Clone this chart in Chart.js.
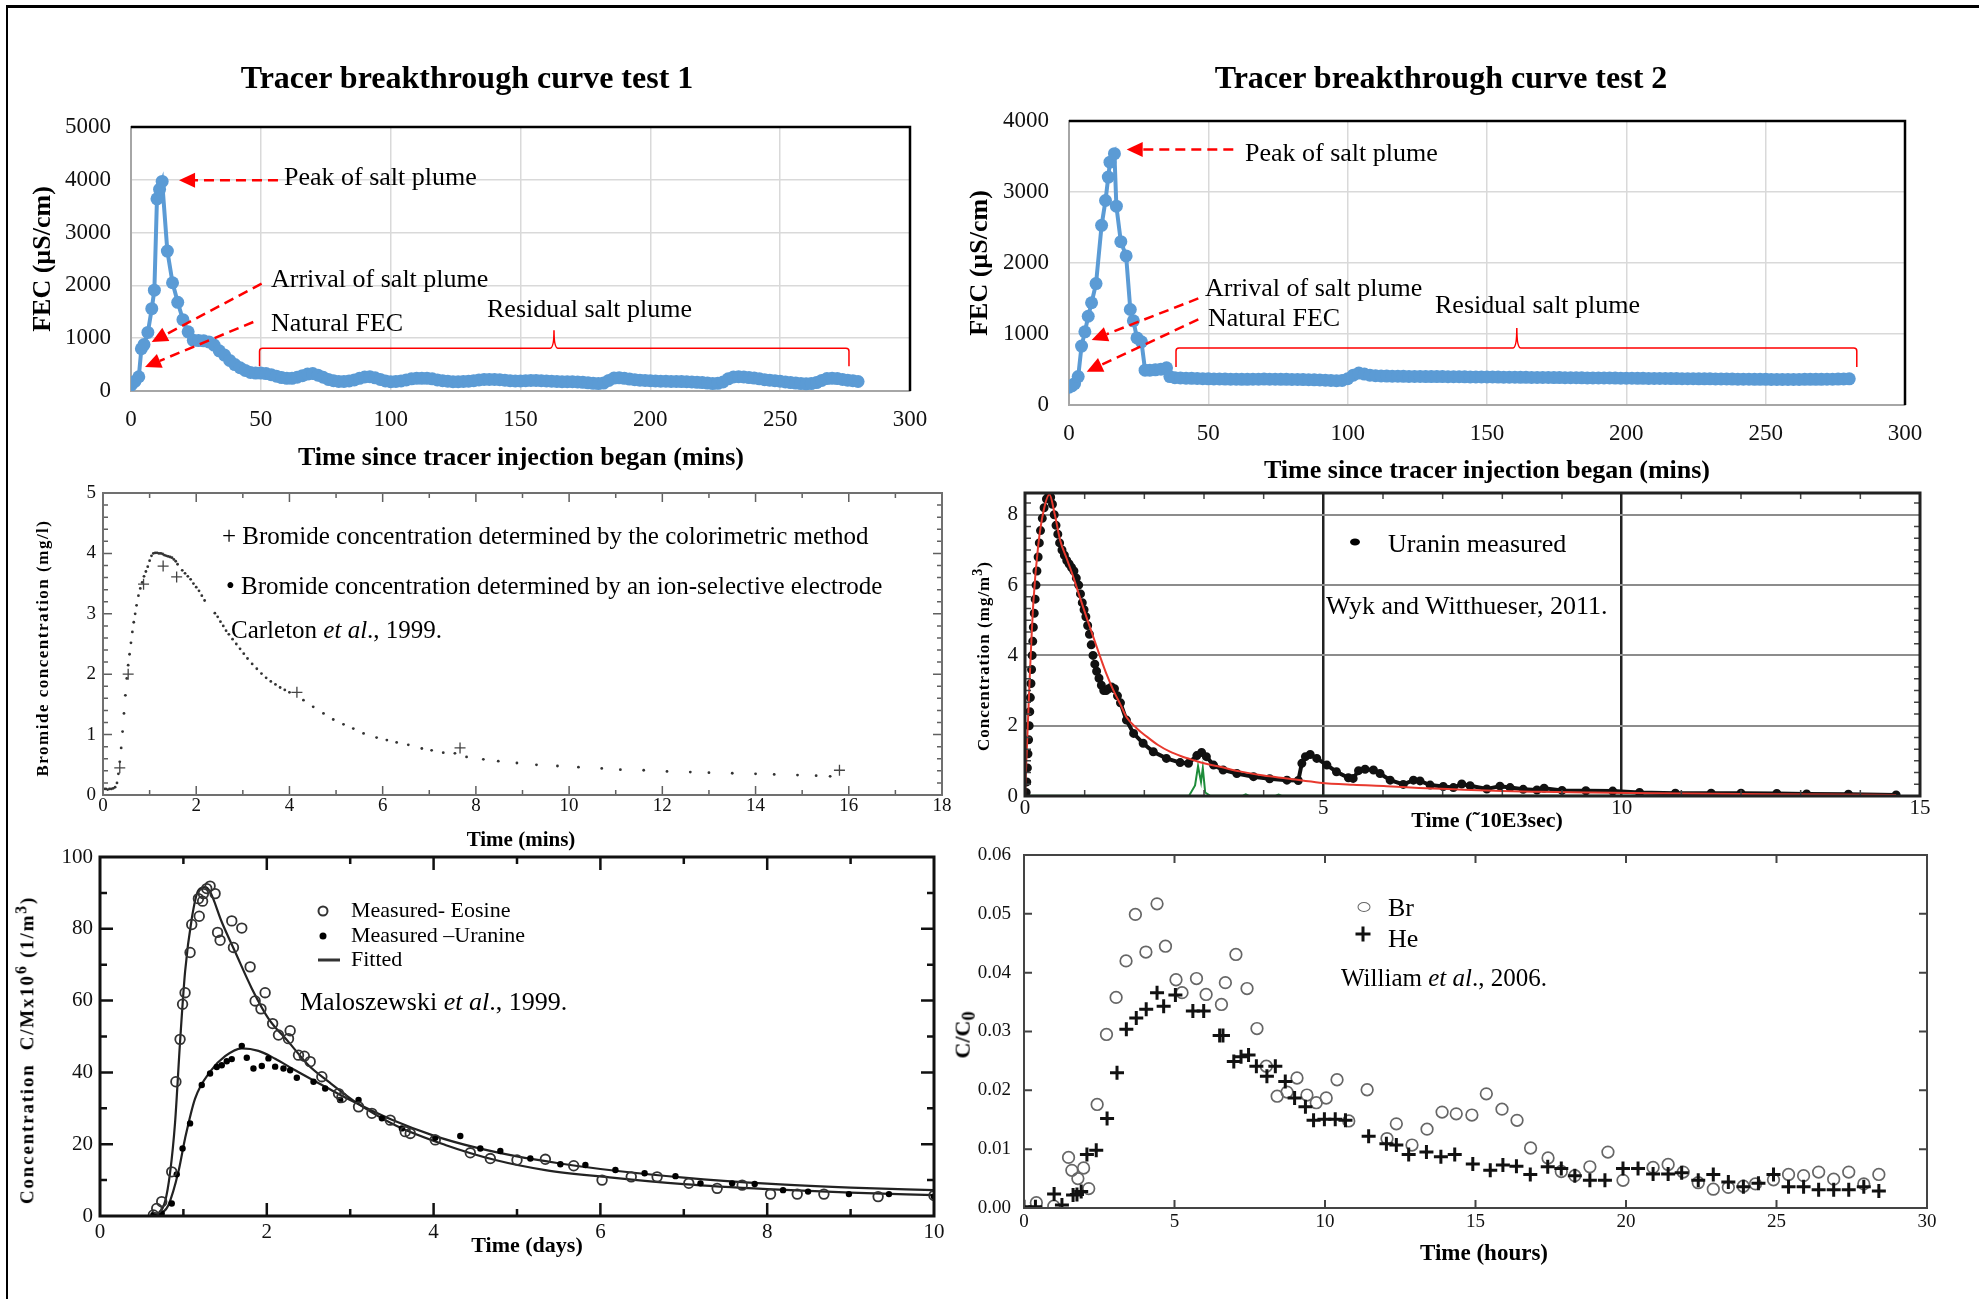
<!DOCTYPE html>
<html>
<head>
<meta charset="utf-8">
<script src="https://cdn.jsdelivr.net/npm/chart.js@4.4.1/dist/chart.umd.min.js"></script>
<style>
body { margin: 0; background: #fff; width: 1979px; height: 1299px; position: relative; overflow: hidden;
  font-family: 'Liberation Serif', 'Times New Roman', serif; }
canvas { position: absolute; z-index: 1; }
.t { position: absolute; white-space: nowrap; color: #000; line-height: 1; z-index: 2; }
.c { transform: translate(-50%, -50%); }
.l { transform: translate(0, -50%); }
.r { transform: translate(-50%, -50%) rotate(-90deg); }
.b { font-weight: bold; }
#frame { position: absolute; left: 6px; top: 5px; width: 1990px; height: 1310px; border-top: 3px solid #000; border-left: 2px solid #000; }
.sym { position: absolute; transform: translate(-50%, -50%); z-index: 2; }
</style>
</head>
<body>
<div id="frame"></div>

<!-- test 1 -->
<div class="t c b" style="left:467px;top:77px;font-size:32px">Tracer breakthrough curve test 1</div>
<div class="t r b" style="left:42px;top:259px;font-size:26px">FEC (µS/cm)</div>
<div class="t c b" style="left:521px;top:457px;font-size:26px">Time since tracer injection began (mins)</div>
<div class="t l" style="left:284px;top:177px;font-size:26px">Peak of salt plume</div>
<div class="t l" style="left:271px;top:279px;font-size:26px">Arrival of salt plume</div>
<div class="t l" style="left:271px;top:323px;font-size:26px">Natural FEC</div>
<div class="t l" style="left:487px;top:309px;font-size:26px">Residual salt plume</div>

<!-- test 2 -->
<div class="t c b" style="left:1441px;top:77px;font-size:32px">Tracer breakthrough curve test 2</div>
<div class="t r b" style="left:979px;top:263px;font-size:26px">FEC (µS/cm)</div>
<div class="t c b" style="left:1487px;top:470px;font-size:26px">Time since tracer injection began (mins)</div>
<div class="t l" style="left:1245px;top:153px;font-size:26px">Peak of salt plume</div>
<div class="t l" style="left:1205px;top:288px;font-size:26px">Arrival of salt plume</div>
<div class="t l" style="left:1208px;top:318px;font-size:26px">Natural FEC</div>
<div class="t l" style="left:1435px;top:305px;font-size:26px">Residual salt plume</div>

<!-- Carleton -->
<div class="t l" style="left:222px;top:535px;font-size:25px">+ Bromide concentration determined by the colorimetric method</div>
<div class="t l" style="left:226px;top:585px;font-size:25px">• Bromide concentration determined by an ion-selective electrode</div>
<div class="t l" style="left:231px;top:629px;font-size:25px">Carleton <i>et al</i>., 1999.</div>
<div class="t r b" style="left:42px;top:648px;font-size:17px;letter-spacing:1.5px">Bromide concentration (mg/l)</div>
<div class="t c b" style="left:521px;top:839px;font-size:21px">Time (mins)</div>

<!-- Wyk -->
<div class="sym" style="left:1355px;top:542px;width:10px;height:7px;border-radius:50%;background:#000"></div>
<div class="t l" style="left:1388px;top:544px;font-size:26px">Uranin measured</div>
<div class="t l" style="left:1326px;top:606px;font-size:26px">Wyk and Witthueser, 2011.</div>
<div class="t r b" style="left:981px;top:656px;font-size:17px;letter-spacing:1px">Concentration (mg/m<sup>3</sup>)</div>
<div class="t c b" style="left:1487px;top:820px;font-size:22px">Time (˜10E3sec)</div>

<!-- Maloszewski -->
<div class="sym" style="left:323px;top:911px;width:7px;height:7px;border-radius:50%;border:2px solid #333"></div>
<div class="sym" style="left:323px;top:936px;width:7px;height:7px;border-radius:50%;background:#000"></div>
<div class="sym" style="left:329px;top:960px;width:22px;height:3px;background:#333"></div>
<div class="t l" style="left:351px;top:910px;font-size:22px">Measured- Eosine</div>
<div class="t l" style="left:351px;top:935px;font-size:22px">Measured –Uranine</div>
<div class="t l" style="left:351px;top:959px;font-size:22px">Fitted</div>
<div class="t l" style="left:300px;top:1002px;font-size:26px">Maloszewski <i>et al</i>., 1999.</div>
<div class="t r b" style="left:25px;top:1050px;font-size:19px;letter-spacing:1.8px">Concentration&nbsp; C/Mx10<sup>6</sup> (1/m<sup>3</sup>)</div>
<div class="t c b" style="left:527px;top:1245px;font-size:22px">Time (days)</div>

<!-- William -->
<div class="sym" style="left:1364px;top:907px;width:11px;height:8px;border-radius:50%;border:1.8px solid #666"></div>
<div class="sym" style="left:1363px;top:934px;width:15px;height:3px;background:#111"></div>
<div class="sym" style="left:1363px;top:934px;width:3px;height:15px;background:#111"></div>
<div class="t l" style="left:1388px;top:908px;font-size:26px">Br</div>
<div class="t l" style="left:1388px;top:939px;font-size:26px">He</div>
<div class="t l" style="left:1341px;top:977px;font-size:25px">William <i>et al</i>., 2006.</div>
<div class="t r b" style="left:965px;top:1035px;font-size:22px">C/C<sub>0</sub></div>
<div class="t c b" style="left:1484px;top:1252px;font-size:23px">Time (hours)</div>

<script>
// ---- data: tracer test 1 (FEC, µS/cm) ----
const t1Time = [0, 1.5, 3, 4, 5, 6.5, 8, 9, 10, 11, 12, 14, 16, 18, 20, 22, 24, 26, 28, 30, 32, 34, 36, 38, 40, 42, 44, 46, 48,
  50, 52, 54, 56, 58, 60, 62, 64, 66, 68,
  70, 72, 74, 76, 78, 80, 82, 84, 86, 88,
  90, 92, 94, 96, 98, 100, 102, 104, 106, 108,
  110, 112, 114, 116, 118, 120, 122, 124, 126, 128,
  130, 132, 134, 136, 138, 140, 142, 144, 146, 148,
  150, 152, 154, 156, 158, 160, 162, 164, 166, 168,
  170, 172, 174, 176, 178, 180, 182, 184, 186, 188,
  190, 192, 194, 196, 198, 200, 202, 204, 206, 208,
  210, 212, 214, 216, 218, 220, 222, 224, 226, 228,
  230, 232, 234, 236, 238, 240, 242, 244, 246, 248,
  250, 252, 254, 256, 258, 260, 262, 264, 266, 268,
  270, 272, 274, 276, 278, 280];
const t1Fec = [110, 180, 270, 800, 880, 1110, 1560, 1910, 3640, 3820, 3970, 2650, 2050, 1680, 1350, 1120, 960, 955, 950, 930, 870, 760, 680, 580, 500, 440, 390, 350, 340,
  340, 330, 310, 280, 255, 240, 240, 260, 290, 320,
  330, 300, 260, 220, 195, 180, 180, 190, 210, 240,
  265, 270, 250, 220, 190, 175, 180, 190, 210, 230,
  240, 240, 240, 230, 210, 195, 185, 175, 175, 180,
  185, 195, 210, 220, 220, 220, 215, 205, 195, 190,
  190, 195, 200, 200, 195, 190, 185, 180, 175, 175,
  175, 170, 165, 155, 145, 140, 150, 200, 245, 250,
  240, 225, 215, 205, 200, 195, 190, 185, 185, 180,
  180, 178, 175, 170, 165, 160, 150, 140, 145, 170,
  230, 265, 270, 265, 255, 245, 230, 215, 205, 195,
  185, 170, 160, 150, 140, 135, 140, 160, 200, 235,
  240, 235, 220, 205, 195, 180];

// ---- data: tracer test 2 ----
const t2Time = [0, 1, 2, 3.3, 4.5, 5.7, 6.9, 8.1, 9.7, 11.7, 13.1, 14.1, 14.7, 16.3, 17, 18.6, 20.5, 22, 23.1, 24.4, 26, 27.3, 29, 31, 33, 35, 36.2,
  38, 40, 42, 44, 46, 48, 50, 52, 54, 56,
  58, 60, 62, 64, 66, 68, 70, 72, 74, 76,
  78, 80, 82, 84, 86, 88, 90, 92, 94, 96,
  98, 100, 102, 104, 106, 108, 110, 112, 114, 116,
  118, 120, 122, 124, 126, 128, 130, 132, 134, 136,
  138, 140, 142, 144, 146, 148, 150, 152, 154, 156,
  158, 160, 162, 164, 166, 168, 170, 172, 174, 176,
  178, 180, 182, 184, 186, 188, 190, 192, 194, 196,
  198, 200, 202, 204, 206, 208, 210, 212, 214, 216,
  218, 220, 222, 224, 226, 228, 230, 232, 234, 236,
  238, 240, 242, 244, 246, 248, 250, 252, 254, 256,
  258, 260, 262, 264, 266, 268, 270, 272, 274, 276,
  278, 280];
const t2Fec = [250, 270, 300, 400, 830, 1030, 1250, 1440, 1710, 2530, 2880, 3210, 3420, 3540, 2800, 2300, 2100, 1345, 1185, 945, 890, 490, 490, 495, 505, 525, 400,
  385, 380, 378, 376, 373, 371, 369, 367, 366, 365,
  364, 363, 362, 362, 363, 364, 365, 364, 363, 362,
  361, 360, 360, 358, 356, 354, 352, 350, 346, 342,
  345, 370, 420, 450, 435, 420, 412, 410, 408, 406,
  405, 404, 403, 402, 402, 401, 400, 400, 400, 399,
  398, 398, 397, 396, 396, 395, 394, 394, 393, 392,
  392, 391, 390, 390, 389, 388, 388, 387, 386, 386,
  385, 384, 384, 383, 382, 382, 381, 380, 380, 379,
  378, 378, 377, 376, 376, 375, 374, 374, 373, 372,
  372, 371, 370, 370, 369, 368, 368, 367, 366, 366,
  365, 364, 364, 363, 362, 362, 361, 360, 360, 360,
  360, 360, 360, 361, 361, 362, 362, 363, 364, 365,
  366, 368];

// ---- data: Carleton et al. 1999 (time mins, bromide mg/l) ----
const colorimetric = [[0.36, 0.45], [0.54, 2.0], [0.87, 3.49], [1.29, 3.79], [1.58, 3.61], [4.16, 1.70], [7.66, 0.78], [15.8, 0.41]];
const electrode = [[0.02, 0.1], [0.06, 0.1], [0.1, 0.09], [0.14, 0.1], [0.18, 0.1], [0.22, 0.11], [0.26, 0.13], [0.3, 0.2],
  [0.33, 0.35], [0.36, 0.55], [0.39, 0.78], [0.42, 1.05], [0.45, 1.35], [0.48, 1.65], [0.51, 1.93], [0.54, 2.15],
  [0.57, 2.33], [0.6, 2.52], [0.63, 2.7], [0.66, 2.86], [0.69, 3.0], [0.72, 3.14], [0.76, 3.3], [0.8, 3.42],
  [0.84, 3.52], [0.88, 3.62], [0.92, 3.7], [0.96, 3.78], [1.0, 3.88], [1.04, 3.96], [1.08, 4.0], [1.12, 4.01],
  [1.16, 4.01], [1.2, 4.0], [1.24, 4.0], [1.28, 3.99], [1.32, 3.97], [1.36, 3.96], [1.4, 3.95], [1.44, 3.94],
  [1.48, 3.93], [1.52, 3.9], [1.56, 3.87], [1.6, 3.82], [1.7, 3.72], [1.76, 3.67], [1.82, 3.62], [1.88, 3.57],
  [1.94, 3.5], [2.0, 3.44], [2.06, 3.38], [2.12, 3.3], [2.18, 3.22], [2.4, 3.01], [2.46, 2.95], [2.52, 2.87],
  [2.58, 2.8], [2.64, 2.72], [2.7, 2.66], [2.78, 2.58], [2.86, 2.5], [2.94, 2.42], [3.02, 2.34], [3.1, 2.26],
  [3.2, 2.17], [3.3, 2.09], [3.4, 2.01], [3.5, 1.94], [3.6, 1.88], [3.7, 1.83], [3.8, 1.78], [3.9, 1.74],
  [4.0, 1.7], [4.3, 1.57], [4.51, 1.46], [4.73, 1.35], [4.94, 1.25], [5.16, 1.17], [5.37, 1.1], [5.59, 1.02],
  [5.87, 0.95], [6.09, 0.91], [6.3, 0.87], [6.55, 0.83], [6.84, 0.77], [7.05, 0.74], [7.3, 0.7], [7.55, 0.69],
  [7.8, 0.63], [8.16, 0.59], [8.48, 0.56], [8.88, 0.53], [9.3, 0.5], [9.75, 0.48], [10.2, 0.46], [10.7, 0.44],
  [11.1, 0.42], [11.6, 0.41], [12.1, 0.39], [12.6, 0.38], [13.0, 0.37], [13.5, 0.36], [14.0, 0.35], [14.4, 0.34],
  [14.9, 0.33], [15.3, 0.32], [15.6, 0.31]];

// ---- data: Wyk and Witthueser 2011 (time x10^3 s, mg/m3) ----
const uraninFit = [[0, 0], [0.03, 1.3], [0.08, 3.4], [0.14, 5.5], [0.22, 7.1], [0.31, 8.1], [0.41, 8.58], [0.5, 8.0],
  [0.59, 7.27], [0.7, 6.75], [0.81, 6.23], [0.92, 5.65], [1.03, 5.09], [1.15, 4.5], [1.26, 3.96], [1.37, 3.45],
  [1.48, 3.01], [1.6, 2.6], [1.7, 2.25], [1.87, 1.93], [2.04, 1.69], [2.23, 1.45], [2.43, 1.26], [2.62, 1.13],
  [2.82, 1.02], [3.0, 0.93], [3.27, 0.83], [3.6, 0.7], [4.0, 0.58], [4.39, 0.5], [4.94, 0.38], [5.5, 0.32],
  [6.06, 0.28], [6.6, 0.23], [7.18, 0.19], [8.0, 0.14], [8.63, 0.12], [9.5, 0.1], [10.5, 0.08], [12, 0.06],
  [13.5, 0.04], [14.6, 0.03]];
const uraninMeasured = [[0.02, 0.1], [0.03, 0.4], [0.04, 0.8], [0.05, 1.2], [0.06, 1.6], [0.07, 2.0], [0.08, 2.4], [0.09, 2.8],
  [0.1, 3.2], [0.11, 3.6], [0.12, 4.0], [0.13, 4.4], [0.14, 4.8], [0.155, 5.2], [0.17, 5.6], [0.185, 6.0],
  [0.2, 6.4], [0.22, 6.8], [0.24, 7.2], [0.26, 7.55], [0.29, 7.9], [0.32, 8.2], [0.36, 8.45], [0.4, 8.6],
  [0.43, 8.5], [0.46, 8.3], [0.49, 8.0], [0.52, 7.7], [0.55, 7.45], [0.58, 7.2], [0.62, 7.0], [0.66, 6.85],
  [0.7, 6.7], [0.74, 6.6], [0.78, 6.5], [0.82, 6.4], [0.86, 6.2], [0.9, 6.0], [0.93, 5.75], [0.96, 5.5],
  [0.99, 5.3], [1.02, 5.1], [1.05, 4.85], [1.08, 4.6], [1.11, 4.3], [1.14, 4.0], [1.17, 3.75], [1.2, 3.55],
  [1.24, 3.35], [1.28, 3.15], [1.32, 3.0], [1.36, 3.0], [1.4, 3.05], [1.45, 3.1], [1.5, 3.05], [1.55, 2.85],
  [1.6, 2.65], [1.7, 2.16], [1.82, 1.78], [1.98, 1.5], [2.15, 1.26], [2.37, 1.07], [2.6, 0.95], [2.74, 0.93],
  [2.88, 1.15], [2.96, 1.24], [3.04, 1.12], [3.16, 0.88], [3.32, 0.74], [3.55, 0.64], [3.83, 0.55], [4.1, 0.49],
  [4.39, 0.45], [4.58, 0.44], [4.64, 0.93], [4.7, 1.12], [4.78, 1.18], [4.89, 1.07], [5.06, 0.88], [5.22, 0.69],
  [5.42, 0.52], [5.5, 0.5], [5.59, 0.72], [5.7, 0.76], [5.84, 0.74], [5.95, 0.64], [6.12, 0.45], [6.34, 0.33],
  [6.51, 0.45], [6.62, 0.43], [6.79, 0.31], [7.01, 0.27], [7.18, 0.24], [7.32, 0.34], [7.46, 0.29], [7.74, 0.2],
  [7.96, 0.28], [8.13, 0.24], [8.35, 0.19], [8.58, 0.17], [8.7, 0.22], [9.0, 0.16], [9.4, 0.15], [9.85, 0.14],
  [10.3, 0.1], [10.9, 0.08], [11.5, 0.08], [12.0, 0.08], [12.6, 0.07], [13.1, 0.06], [13.8, 0.05], [14.6, 0.03]];
const greenTrace = [[0, 0.01], [2.75, 0.01], [2.85, 0.3], [2.9, 0.85], [2.95, 0.4], [2.98, 0.8], [3.02, 0.1], [3.1, 0.01],
  [3.65, 0.01], [3.7, 0.05], [3.75, 0.01], [4.2, 0.01], [4.25, 0.04], [4.3, 0.01], [14.6, 0.01]];

// ---- data: Maloszewski et al. 1999 (days, C/M x10^6) ----
const eosine = [[0.64, 0.3], [0.68, 2.1], [0.74, 4], [0.86, 12.3], [0.91, 37.4], [0.96, 49.2], [0.99, 59], [1.02, 62.2],
  [1.08, 73.4], [1.1, 81.2], [1.18, 88.4], [1.19, 83.5], [1.23, 87.7], [1.24, 89.8], [1.28, 91.2], [1.32, 91.9],
  [1.38, 89.8], [1.41, 79], [1.44, 76.8], [1.58, 82.2], [1.6, 74.8], [1.7, 80.2], [1.8, 69.4], [1.86, 59.9],
  [1.93, 57.7], [1.98, 62.2], [2.07, 53.6], [2.14, 50.4], [2.26, 49.4], [2.28, 51.6], [2.38, 44.8], [2.45, 44.5],
  [2.52, 43], [2.66, 38.8], [2.86, 34.1], [2.9, 33], [3.1, 30.4], [3.26, 28.6], [3.48, 26.7], [3.66, 23.5],
  [3.72, 23], [4.02, 21.2], [4.44, 17.6], [4.68, 16], [5.0, 15.6], [5.34, 15.8], [5.68, 14], [6.02, 10],
  [6.37, 10.9], [6.68, 10.9], [7.06, 9.1], [7.4, 7.7], [7.7, 8.6], [8.04, 6.1], [8.36, 6.1], [8.68, 6.1],
  [9.33, 5.4], [10.0, 5.7]];
const uranine = [[0.64, 0.3], [0.74, 0.7], [0.86, 3.5], [0.92, 11.6], [0.99, 18.8], [1.08, 25.8], [1.22, 36.5], [1.32, 39.7],
  [1.4, 41.5], [1.46, 42], [1.52, 43.1], [1.58, 43.7], [1.7, 47.4], [1.76, 44.1], [1.84, 41.1], [1.94, 41.8],
  [2.02, 43.9], [2.1, 41.6], [2.2, 41.1], [2.28, 40.6], [2.36, 38.5], [2.56, 37.4], [2.7, 35.5], [2.88, 32.3],
  [3.1, 32.3], [3.38, 27.2], [3.62, 24.4], [4.02, 21.8], [4.32, 22.3], [4.56, 18.8], [4.8, 18.1], [5.16, 16],
  [5.52, 14.4], [5.82, 14.2], [6.18, 12.8], [6.53, 11.9], [6.9, 11.1], [7.2, 9.1], [7.58, 9.1], [7.85, 8.9],
  [8.19, 7.2], [8.49, 6.8], [8.98, 6.1], [9.46, 6.1], [10.0, 5.4]];
const eosineFit = [[0.6, 0], [0.7, 0.8], [0.78, 4], [0.84, 12], [0.9, 26], [0.96, 48.5], [1.02, 68], [1.1, 82.8],
  [1.18, 90.7], [1.26, 91.6], [1.32, 90.3], [1.46, 81.9], [1.62, 73.6], [1.82, 63.4], [2.02, 55], [2.26, 48.5],
  [2.5, 42], [2.74, 37.4], [3.06, 31.8], [3.54, 25.3], [4.14, 19.8], [4.74, 15.6], [5.34, 12.8], [6.14, 10.7],
  [7, 8.9], [8, 7.5], [9, 6.5], [10, 5.8]];
const uranineFit = [[0.65, 0], [0.75, 1], [0.82, 3], [0.94, 12.3], [1.02, 21.6], [1.14, 32.7], [1.32, 40.2], [1.5, 44.5],
  [1.7, 46.7], [1.9, 46], [2.1, 43.8], [2.34, 40.6], [2.74, 35.5], [3.0, 32.3], [3.5, 26.8], [4, 22.4],
  [4.5, 19.1], [5, 16.6], [5.5, 14.7], [6, 13.1], [7, 10.7], [8, 9.0], [9, 7.9], [10, 7.2]];

// ---- data: William et al. 2006 (hours, C/C0) ----
const brData = [[0.41, 0.0009], [0.99, 0.0003], [1.48, 0.0086], [1.59, 0.0064], [1.79, 0.005], [1.98, 0.0068], [2.15, 0.0033],
  [2.43, 0.0176], [2.74, 0.0295], [3.06, 0.0358], [3.39, 0.042], [3.7, 0.0499], [4.05, 0.0435], [4.42, 0.0517],
  [4.7, 0.0445], [5.05, 0.0388], [5.25, 0.0366], [5.73, 0.039], [6.05, 0.0363], [6.56, 0.0346], [6.69, 0.0383],
  [7.04, 0.0431], [7.41, 0.0373], [7.74, 0.0305], [8.05, 0.0241], [8.41, 0.019], [8.74, 0.0197], [9.07, 0.0221],
  [9.4, 0.0192], [9.71, 0.0179], [10.04, 0.0187], [10.4, 0.0218], [10.79, 0.0148], [11.4, 0.0201], [12.06, 0.0118],
  [12.37, 0.0143], [12.89, 0.0107], [13.39, 0.0134], [13.89, 0.0163], [14.36, 0.016], [14.88, 0.0158], [15.36, 0.0194],
  [15.88, 0.0168], [16.38, 0.0149], [16.83, 0.0102], [17.41, 0.0085], [17.85, 0.0062], [18.3, 0.0055], [18.8, 0.007],
  [19.4, 0.0095], [19.9, 0.0047], [20.9, 0.0069], [21.4, 0.0074], [21.9, 0.0061], [22.4, 0.0043], [22.9, 0.0032],
  [23.4, 0.0035], [23.9, 0.0037], [24.3, 0.0041], [24.9, 0.0048], [25.4, 0.0057], [25.9, 0.0055], [26.4, 0.0061],
  [26.9, 0.0049], [27.4, 0.0061], [27.9, 0.0041], [28.4, 0.0057]];
const heData = [[0, 0.0002], [0.38, 0.0002], [1.0, 0.0024], [1.26, 0.0005], [1.63, 0.0022], [1.76, 0.0023], [1.9, 0.0028],
  [2.09, 0.0091], [2.4, 0.0098], [2.76, 0.0152], [3.09, 0.023], [3.4, 0.0304], [3.73, 0.0323], [4.06, 0.0338],
  [4.42, 0.0366], [4.64, 0.0343], [5.03, 0.0362], [5.61, 0.0335], [5.97, 0.0335], [6.5, 0.0293], [6.61, 0.0293],
  [6.97, 0.0249], [7.21, 0.0257], [7.46, 0.026], [7.72, 0.0241], [8.07, 0.0224], [8.35, 0.0241], [8.68, 0.0215],
  [8.99, 0.0187], [9.35, 0.0172], [9.62, 0.0149], [9.98, 0.0151], [10.34, 0.0151], [10.68, 0.0149], [11.45, 0.0122],
  [12.04, 0.0109], [12.37, 0.0107], [12.78, 0.0091], [13.37, 0.0095], [13.85, 0.0087], [14.31, 0.0091], [14.91, 0.0075],
  [15.49, 0.0064], [15.91, 0.0073], [16.36, 0.0071], [16.82, 0.0057], [17.4, 0.007], [17.85, 0.0067], [18.3, 0.0055],
  [18.8, 0.0047], [19.3, 0.0047], [19.9, 0.0067], [20.4, 0.0067], [20.9, 0.0058], [21.4, 0.0058], [21.85, 0.006],
  [22.4, 0.0047], [22.9, 0.0057], [23.4, 0.0044], [23.9, 0.0036], [24.4, 0.0042], [24.9, 0.0057], [25.4, 0.0036],
  [25.9, 0.0036], [26.4, 0.0031], [26.9, 0.0031], [27.4, 0.0031], [27.9, 0.0036], [28.4, 0.0029]];

// ---- tick values ----
const ticksMins = [0, 50, 100, 150, 200, 250, 300];
const ticksFec1 = [0, 1000, 2000, 3000, 4000, 5000];
const ticksFec2 = [0, 1000, 2000, 3000, 4000];
const ticksBrX = [0, 2, 4, 6, 8, 10, 12, 14, 16, 18];
const ticksBrY = [0, 1, 2, 3, 4, 5];
const ticksWykX = [0, 5, 10, 15];
const ticksWykY = [0, 2, 4, 6, 8];
const ticksDays = [0, 2, 4, 6, 8, 10];
const ticksConc = [0, 20, 40, 60, 80, 100];
const ticksHours = [0, 5, 10, 15, 20, 25, 30];
const ticksCC0 = [0, 0.01, 0.02, 0.03, 0.04, 0.05, 0.06];

// ---- annotations on the salt tests (in data units) ----
const notes1 = {
  arrows: [[[56.6, 3990], [18.5, 3990]], [[50.3, 2034], [7.97, 928]], [[47.1, 1307], [5.4, 455]]],
  bracket: { x0: 49.5, x1: 276.5, xm: 162.9, y: 809, yEnd: 468, yTip: 1150 }
};
const notes2 = {
  arrows: [[[58.96, 3598], [20.7, 3598]], [[46.4, 1501], [8.14, 915]], [[46.4, 1205], [6.35, 469]]],
  bracket: { x0: 38.4, x1: 282.7, xm: 160.7, y: 802, yEnd: 535, yTip: 1083 }
};

const SERIF = "'Liberation Serif', 'Times New Roman', serif";
const BLUE = '#5b9bd5';
const M = { l: 80, r: 50, t: 45, b: 50 };
const pts = arr => arr.map(p => ({ x: p[0], y: p[1] }));

function lin(min, max, vals, o) {
  return {
    type: 'linear', min, max,
    afterBuildTicks: s => { s.ticks = vals.map(v => ({ value: v })); },
    ticks: { font: { family: SERIF, size: o.size }, color: '#111', padding: o.pad, maxRotation: 0, autoSkip: false,
      callback: o.fmt || (v => String(v)) },
    grid: { display: !!o.grid, color: o.grid || 'transparent', lineWidth: o.gw || 1, drawTicks: false },
    border: { display: !!o.border, color: o.border || '#000', width: 2 }
  };
}

function makeChart(rect, config) {
  const cv = document.createElement('canvas');
  const L = Math.round(rect[0]), T = Math.round(rect[1]), R = Math.round(rect[2]), B = Math.round(rect[3]);
  const W = R - L + M.l + M.r, H = B - T + M.t + M.b;
  cv.width = W; cv.height = H;
  cv.style.left = (L - M.l) + 'px'; cv.style.top = (T - M.t) + 'px';
  cv.style.width = W + 'px'; cv.style.height = H + 'px';
  document.body.appendChild(cv);
  config.options.responsive = false;
  config.options.animation = false;
  config.options.devicePixelRatio = 1;
  config.options.layout = { padding: { left: 0, right: M.r, top: M.t, bottom: 0 } };
  config.options.plugins = { legend: { display: false }, tooltip: { enabled: false } };
  config.options.scales.x.afterFit = s => { s.height = M.b; };
  config.options.scales.y.afterFit = s => { s.width = M.l; };
  return new Chart(cv, config);
}

// frame with inward tick marks (scanned panels)
function frameTicks(f) {
  return {
    id: 'frameTicks',
    afterDatasetsDraw(chart) {
      const { ctx, chartArea: a, scales: { x, y } } = chart;
      ctx.save();
      ctx.strokeStyle = f.tickColor; ctx.lineWidth = f.tickWidth;
      const marks = (sc, s, horiz) => {
        const n = Math.round((sc.max - sc.min) / s.minor);
        for (let i = 1; i < n; i++) {
          const v = sc.min + i * s.minor;
          const q = v / s.major;
          const len = Math.abs(q - Math.round(q)) < 1e-6 ? s.majorLen : s.minorLen;
          if (!len) continue;
          const p = sc.getPixelForValue(v);
          ctx.beginPath();
          if (horiz) {
            ctx.moveTo(p, a.bottom); ctx.lineTo(p, a.bottom - len);
            ctx.moveTo(p, a.top); ctx.lineTo(p, a.top + len);
          } else {
            ctx.moveTo(a.left, p); ctx.lineTo(a.left + len, p);
            ctx.moveTo(a.right, p); ctx.lineTo(a.right - len, p);
          }
          ctx.stroke();
        }
      };
      marks(x, f.x, true);
      marks(y, f.y, false);
      ctx.strokeStyle = f.color; ctx.lineWidth = f.width;
      ctx.strokeRect(a.left, a.top, a.right - a.left, a.bottom - a.top);
      ctx.restore();
    }
  };
}

// black top/right border, red dashed arrows and bracket
function saltNotes(n) {
  return {
    id: 'saltNotes',
    afterDatasetsDraw(chart) {
      const { ctx, chartArea: a, scales: { x, y } } = chart;
      ctx.save();
      ctx.strokeStyle = '#000'; ctx.lineWidth = 2.5;
      ctx.beginPath(); ctx.moveTo(a.left, a.top); ctx.lineTo(a.right, a.top); ctx.lineTo(a.right, a.bottom); ctx.stroke();
      ctx.strokeStyle = ctx.fillStyle = '#ff0000';
      n.arrows.forEach(([from, to]) => {
        const x0 = x.getPixelForValue(from[0]), y0 = y.getPixelForValue(from[1]);
        const x1 = x.getPixelForValue(to[0]), y1 = y.getPixelForValue(to[1]);
        const ang = Math.atan2(y1 - y0, x1 - x0), hl = 16, hw = 7.5;
        const bx = x1 - hl * Math.cos(ang), by = y1 - hl * Math.sin(ang);
        ctx.setLineDash([10, 6]); ctx.lineWidth = 2.5;
        ctx.beginPath(); ctx.moveTo(x0, y0); ctx.lineTo(bx, by); ctx.stroke();
        ctx.setLineDash([]);
        ctx.beginPath(); ctx.moveTo(x1, y1);
        ctx.lineTo(bx + hw * Math.sin(ang), by - hw * Math.cos(ang));
        ctx.lineTo(bx - hw * Math.sin(ang), by + hw * Math.cos(ang));
        ctx.closePath(); ctx.fill();
      });
      const b = n.bracket;
      const xl = x.getPixelForValue(b.x0), xr = x.getPixelForValue(b.x1), xm = x.getPixelForValue(b.xm);
      const yh = y.getPixelForValue(b.y), ye = y.getPixelForValue(b.yEnd), yt = y.getPixelForValue(b.yTip);
      ctx.lineWidth = 1.5;
      ctx.beginPath();
      ctx.moveTo(xl, ye); ctx.lineTo(xl, yh + 3); ctx.quadraticCurveTo(xl, yh, xl + 3, yh);
      ctx.lineTo(xm - 4, yh); ctx.quadraticCurveTo(xm, yh, xm, yt);
      ctx.quadraticCurveTo(xm, yh, xm + 4, yh);
      ctx.lineTo(xr - 3, yh); ctx.quadraticCurveTo(xr, yh, xr, yh + 3); ctx.lineTo(xr, ye);
      ctx.stroke();
      ctx.restore();
    }
  };
}

const blueSeries = (tt, vv) => ({
  data: tt.map((t, i) => ({ x: t, y: vv[i] })), showLine: true,
  borderColor: BLUE, borderWidth: 4, pointRadius: 6.5, pointBackgroundColor: BLUE, pointBorderWidth: 0
});

// test 1
makeChart([131, 127, 910, 391], {
  type: 'scatter',
  data: { datasets: [blueSeries(t1Time, t1Fec)] },
  options: { scales: {
    x: lin(0, 300, ticksMins, { size: 23, pad: 15, grid: '#d9d9d9', gw: 1.5, border: '#a6a6a6' }),
    y: lin(0, 5000, ticksFec1, { size: 23, pad: 20, grid: '#d9d9d9', gw: 1.5, border: '#a6a6a6' })
  } },
  plugins: [saltNotes(notes1)]
});

// test 2
makeChart([1069, 121, 1905, 405], {
  type: 'scatter',
  data: { datasets: [blueSeries(t2Time, t2Fec)] },
  options: { scales: {
    x: lin(0, 300, ticksMins, { size: 23, pad: 15, grid: '#d9d9d9', gw: 1.5, border: '#a6a6a6' }),
    y: lin(0, 4000, ticksFec2, { size: 23, pad: 20, grid: '#d9d9d9', gw: 1.5, border: '#a6a6a6' })
  } },
  plugins: [saltNotes(notes2)]
});

// Carleton
makeChart([103, 493, 942, 795], {
  type: 'scatter',
  data: { datasets: [
    { data: pts(colorimetric), pointStyle: 'cross', pointRadius: 5.5, borderColor: '#444', borderWidth: 1.3 },
    { data: pts(electrode), pointRadius: 1.4, backgroundColor: '#333', borderWidth: 0 }
  ] },
  options: { scales: {
    x: lin(0, 18, ticksBrX, { size: 19, pad: 0 }),
    y: lin(0, 5, ticksBrY, { size: 19, pad: 7 })
  } },
  plugins: [frameTicks({ color: '#707070', width: 2, tickColor: '#606060', tickWidth: 1.5,
    x: { minor: 1, major: 2, minorLen: 5, majorLen: 9 }, y: { minor: 0.2, major: 1, minorLen: 5, majorLen: 9 } })]
});

// Wyk and Witthueser
makeChart([1025, 493, 1920, 796], {
  type: 'scatter',
  data: { datasets: [
    { data: pts(uraninFit), showLine: true, borderColor: '#e8392e', borderWidth: 2, pointRadius: 0, tension: 0.3, cubicInterpolationMode: 'monotone' },
    { data: pts(uraninMeasured), showLine: true, borderColor: '#111', borderWidth: 4, pointRadius: 2.5, backgroundColor: '#111',
      segment: { borderColor: c => c.p0.parsed.x < 1.3 ? 'rgba(0,0,0,0)' : '#111' } },
    { data: pts(greenTrace), showLine: true, borderColor: '#1e8c3a', borderWidth: 2, pointRadius: 0 }
  ] },
  options: { scales: {
    x: Object.assign(lin(0, 15, ticksWykX, { size: 21, pad: 0 }),
      { grid: { display: true, drawTicks: false, lineWidth: 2.5,
        color: c => (c.tick && (c.tick.value === 5 || c.tick.value === 10)) ? '#222' : 'rgba(0,0,0,0)' } }),
    y: lin(0, 8.62, ticksWykY, { size: 21, pad: 7, grid: '#8c8c8c', gw: 2 })
  } },
  plugins: [frameTicks({ color: '#222', width: 3, tickColor: '#444', tickWidth: 1.5,
    x: { minor: 1, major: 5, minorLen: 6, majorLen: 0 }, y: { minor: 2 / 6, major: 2, minorLen: 6, majorLen: 0 } })]
});

// Maloszewski
makeChart([100, 857, 934, 1216], {
  type: 'scatter',
  data: { datasets: [
    { data: pts(eosine), pointRadius: 4.8, borderColor: '#333', backgroundColor: 'rgba(255,255,255,0)', borderWidth: 1.8 },
    { data: pts(uranine), pointRadius: 3.2, backgroundColor: '#000', borderWidth: 0 },
    { data: pts(eosineFit), showLine: true, borderColor: '#222', borderWidth: 2.2, pointRadius: 0, tension: 0.4, cubicInterpolationMode: 'monotone' },
    { data: pts(uranineFit), showLine: true, borderColor: '#222', borderWidth: 2.2, pointRadius: 0, tension: 0.4, cubicInterpolationMode: 'monotone' }
  ] },
  options: { scales: {
    x: lin(0, 10, ticksDays, { size: 21, pad: 4 }),
    y: lin(0, 100, ticksConc, { size: 21, pad: 7 })
  } },
  plugins: [frameTicks({ color: '#111', width: 3, tickColor: '#111', tickWidth: 2.5,
    x: { minor: 1, major: 2, minorLen: 7, majorLen: 13 }, y: { minor: 10, major: 20, minorLen: 7, majorLen: 13 } })]
});

// William
makeChart([1024, 855, 1927, 1208], {
  type: 'scatter',
  data: { datasets: [
    { data: pts(heData), pointStyle: 'cross', pointRadius: 7, borderColor: '#111', borderWidth: 3 },
    { data: pts(brData), pointRadius: 5.8, borderColor: '#666', backgroundColor: 'rgba(255,255,255,0)', borderWidth: 1.7 }
  ] },
  options: { scales: {
    x: lin(0, 30, ticksHours, { size: 19, pad: 3 }),
    y: lin(0, 0.06, ticksCC0, { size: 19, pad: 13, fmt: v => v.toFixed(2) })
  } },
  plugins: [frameTicks({ color: '#444', width: 2, tickColor: '#444', tickWidth: 2,
    x: { minor: 5, major: 5, minorLen: 8, majorLen: 8 }, y: { minor: 0.01, major: 0.01, minorLen: 8, majorLen: 8 } })]
});
</script>
</body>
</html>
